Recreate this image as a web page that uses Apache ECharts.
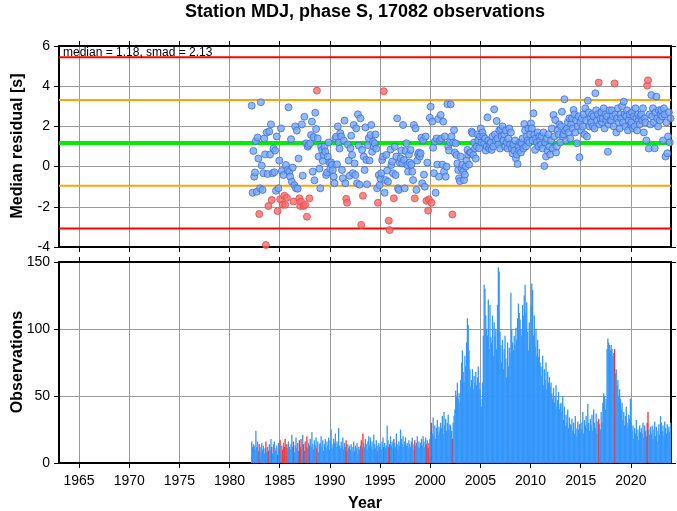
<!DOCTYPE html>
<html><head><meta charset="utf-8">
<script src="https://cdn.jsdelivr.net/npm/echarts@6/dist/echarts.min.js"></script>
<style>html,body{margin:0;padding:0;background:#fff}#c{width:677px;height:511px}</style>
</head><body><div id="c"></div>
<script>
const TITLE = 'Station MDJ, phase S, 17082 observations';
const MEDIAN = 1.18, SMAD = 2.13;
const START_YEAR = 1982, START_MONTH = 2; // first month = March 1982
const yearTicks = [1965,1970,1975,1980,1985,1990,1995,2000,2005,2010,2015,2020];

// monthly median residuals [s]
const residuals = [
  3.03,-1.3,0.78,-0.5,-0.29,1.27,-1.25,1.45,0.4,-2.36,
  -1.08,3.20,0.05,-1.16,-0.33,1.4,0.61,-3.9,1.7,-0.37,-1.96,1.75,
  0.6,2.1,-1.66,-0.33,0.9,-0.28,0.8,-1.2,1.5,-2.21,-1.08,0.3,
  -1.63,1.9,-0.22,-1.9,-0.42,-1.45,-1.9,0.08,-1.55,-0.17,2.95,-0.25,
  -0.5,1.36,-0.75,-0.05,-1.74,-0.92,2.0,-1.08,1.79,-1.1,0.4,-1.58,
  -1.96,-1.74,2.1,-0.45,-1.96,2.48,-1.9,1.16,-2.49,0.99,1.07,-1.58,
  1.16,1.57,2.24,-0.25,1.47,-0.68,2.68,1.87,3.78,1.4,0.5,-0.1,
  -1.08,0.99,0.83,0.28,0.58,0.99,0.74,-0.42,-0.3,0.5,1.2,0.2,
  -0.12,0.21,0.08,-0.17,-0.5,-0.83,1.4,1.49,0.11,2.0,1.2,0.9,
  1.66,1.5,-0.17,-0.58,1.3,2.29,-0.83,-1.6,-1.8,1.1,0.3,-0.46,
  0.91,1.54,0.58,-0.33,2.07,0.16,-0.42,1.9,-0.83,2.6,1.04,-0.9,
  2.4,-2.9,0.83,-1.45,0.5,-0.17,1.95,0.33,-0.88,1.07,1.41,0.3,
  1.57,2.07,0.74,1.24,1.0,1.16,1.6,0.9,-1.08,-1.8,-0.42,-0.92,
  -0.6,-0.33,0.33,0.5,3.75,-1.3,-0.67,0.58,-0.2,-0.75,-2.69,-3.16,
  0.85,0.08,0.25,-0.33,-1.58,0.99,-0.42,0.5,2.4,-1.08,-1.16,0.2,
  0.41,0.8,0.16,2.07,0.33,-1.08,0.77,1.16,0.08,-0.25,0.6,0.2,
  0.83,0.1,-0.25,-0.67,2.07,-1.58,1.9,-1.16,0.3,0.6,0.7,0.5,
  0.66,1.44,-0.83,1.3,-0.4,-1.0,1.5,-1.7,0.2,-2.19,-1.63,2.43,
  2.98,-1.8,2.24,0.94,-0.33,1.24,-1.3,1.4,0.1,2.37,-0.5,1.3,
  2.57,1.4,0.1,2.24,-0.25,1.5,-0.5,0.0,3.11,1.0,0.8,1.2,
  3.1,1.5,-2.38,1.2,1.82,0.7,1.16,0.58,0.16,-0.17,-0.58,-0.72,
  0.5,-0.08,0.1,-0.25,-0.67,-0.4,0.0,0.3,0.83,0.6,0.1,0.7,
  0.7,1.74,1.66,0.58,1.2,0.9,0.4,1.0,1.6,1.3,0.91,1.5,
  1.9,1.2,1.7,1.5,1.16,1.4,0.8,1.0,2.45,1.3,0.9,1.1,
  1.2,0.83,1.5,1.0,2.85,1.6,1.3,2.27,1.4,1.1,1.8,0.9,
  1.86,1.5,2.0,1.3,1.6,1.0,1.8,1.2,0.9,1.4,1.9,1.1,
  1.7,0.9,0.66,1.1,0.8,1.3,0.41,0.6,0.13,1.0,0.8,1.2,
  0.7,1.16,1.4,0.9,2.12,1.8,1.0,1.5,1.3,1.9,1.2,1.6,
  2.15,1.9,1.3,2.65,1.6,0.83,1.4,1.2,1.7,1.0,1.5,1.3,
  1.1,1.5,0.9,1.7,0.03,1.2,0.5,1.4,0.8,1.6,1.0,0.6,
  1.3,1.9,0.9,2.57,1.5,2.32,0.7,1.0,1.8,1.6,2.1,1.2,
  2.0,2.73,1.5,1.6,3.35,1.8,1.3,1.9,2.2,1.7,2.4,1.4,
  2.1,2.4,1.9,2.82,2.6,1.7,2.3,1.16,2.0,2.5,0.46,2.2,
  1.8,2.4,2.0,2.6,1.6,2.9,2.3,1.5,3.28,2.7,2.0,2.4,
  2.2,2.6,2.0,2.5,1.9,3.65,2.8,2.3,2.6,4.18,2.1,2.4,
  2.7,2.2,2.4,2.9,1.9,2.6,2.3,2.5,0.74,2.1,2.8,2.3,
  2.3,2.8,2.5,2.0,4.14,2.6,1.7,2.4,2.9,2.2,1.9,2.6,
  2.4,3.0,2.2,3.23,2.6,2.0,2.5,2.8,1.8,2.3,2.6,2.1,
  2.2,2.7,1.9,2.5,2.0,2.9,2.4,1.8,2.6,2.3,2.1,2.5,
  2.6,2.3,2.9,1.7,2.4,2.2,1.3,4.03,4.29,0.9,2.6,2.1,
  3.56,2.5,2.9,2.2,0.91,2.7,3.48,2.4,2.0,2.8,2.3,2.6,
  2.8,2.5,1.3,2.9,2.6,0.5,2.2,0.66,1.5,2.7,1.2,2.4
];

// monthly observation counts
const counts = [
  16,12,14,13,10,24,12,16,9,14,
  12,8,15,10,13,7,11,16,8,12,9,14,
  10,18,12,7,14,16,9,11,13,6,15,10,
  17,8,13,10,15,12,18,9,14,11,16,12,
  10,14,21,12,16,8,13,19,11,15,9,17,
  12,18,10,21,14,9,16,12,20,11,15,13,
  18,12,23,14,10,17,13,19,11,16,8,14,
  15,20,12,17,9,14,18,11,16,13,19,10,
  17,25,14,11,18,15,22,12,16,14,26,13,
  11,16,13,19,10,15,12,17,9,14,11,13,
  10,14,8,12,16,9,13,11,15,7,12,10,
  13,17,11,22,15,12,18,14,10,16,20,13,
  19,12,16,10,21,14,11,17,13,9,15,12,
  14,10,16,19,12,15,11,13,28,17,12,14,
  20,13,16,11,18,15,12,22,14,10,16,13,
  25,18,14,20,12,16,19,13,15,11,17,14,
  12,16,19,14,10,17,13,15,20,12,16,11,
  15,18,13,20,16,12,19,14,17,11,15,18,
  24,30,22,34,20,28,18,26,32,21,27,24,
  30,26,35,22,38,28,33,24,30,36,25,29,
  28,24,18,30,35,40,54,50,60,48,52,45,
  62,75,84,68,60,80,72,90,108,103,84,70,
  57,62,70,55,65,60,68,58,64,72,60,55,
  48,42,60,95,133,130,110,100,95,122,85,118,
  94,90,110,80,105,95,100,85,118,146,143,98,
  88,75,92,70,85,95,78,64,90,72,86,82,
  127,100,90,84,95,88,101,92,108,119,112,107,
  100,95,118,110,125,133,112,120,98,84,105,92,
  118,134,129,95,110,87,100,80,92,79,85,75,
  72,65,80,58,70,62,75,55,68,60,64,57,
  60,52,48,56,45,50,58,42,47,53,40,44,
  45,38,50,32,42,28,36,30,40,26,34,29,
  28,33,24,30,22,35,26,20,31,25,29,23,
  30,25,38,22,32,28,35,26,44,30,24,33,
  28,36,24,40,30,26,37,22,31,33,29,25,
  38,30,45,52,50,40,48,85,93,90,88,84,
  88,85,80,82,85,67,70,58,62,50,55,48,
  40,45,32,38,28,35,42,30,26,36,33,48,
  30,24,28,18,26,22,32,20,25,17,28,23,
  26,22,30,19,28,24,20,30,38,25,21,27,
  22,28,18,25,31,20,27,16,24,29,21,35,
  30,24,28,20,31,26,22,29,25,27,23,30
];

const FONT = '"Liberation Sans", Arial, Helvetica, sans-serif';
const XMIN = 1963, XMAX = 2024;
const OUT_LIMIT = 1.2 * SMAD;

const monthX = i => START_YEAR + (START_MONTH + i + 0.5) / 12;
const isOut = v => Math.abs(v - MEDIAN) > OUT_LIMIT;

const bluePts = [], redPts = [], bars = [];
residuals.forEach((v, i) => {
  (isOut(v) ? redPts : bluePts).push([monthX(i), v]);
});
counts.forEach((c, i) => {
  const out = isOut(residuals[i]);
  bars.push({ value: [monthX(i), c], itemStyle: { color: out ? '#ff2e2e' : '#3396fb' }, z: out ? 3 : 2 });
});

function xAx(grid, pos, labels, split) {
  return {
    type: 'value', gridIndex: grid, position: pos, min: XMIN, max: XMAX,
    axisLine: { show: true, onZero: false, lineStyle: { color: '#000', width: 2 } },
    axisTick: { show: true, customValues: yearTicks, length: 5, lineStyle: { color: '#000', width: 1 } },
    axisLabel: { show: labels, customValues: yearTicks, formatter: v => String(v), color: '#000', fontSize: 14, fontFamily: FONT, margin: 11 },
    splitLine: { show: split, lineStyle: { color: '#9a9a9a', width: 1 } }
  };
}
function yAx(grid, pos, min, max, interval, labels, split) {
  return {
    type: 'value', gridIndex: grid, position: pos, min: min, max: max, interval: interval,
    axisLine: { show: true, onZero: false, lineStyle: { color: '#000', width: 2 } },
    axisTick: { show: true, length: 5, lineStyle: { color: '#000', width: 1 } },
    axisLabel: { show: labels, formatter: v => String(v), color: '#000', fontSize: 14, fontFamily: FONT, margin: 9 },
    splitLine: { show: split, lineStyle: { color: '#9a9a9a', width: 1 } }
  };
}
function hLine(val, color, width) {
  return {
    type: 'line', xAxisIndex: 0, yAxisIndex: 0, data: [[XMIN, val], [XMAX, val]],
    showSymbol: false, symbol: 'none', silent: true, z: 1,
    lineStyle: { color: color, width: width }
  };
}

const chart = echarts.init(document.getElementById('c'), null, { renderer: 'canvas' });
chart.setOption({
  animation: false,
  backgroundColor: '#fff',
  grid: [
    { left: 59, right: 6, top: 46, height: 201 },
    { left: 59, right: 6, top: 262, height: 201 }
  ],
  xAxis: [
    xAx(0, 'bottom', false, true),
    xAx(0, 'top', false, false),
    xAx(1, 'bottom', true, true),
    xAx(1, 'top', false, false)
  ],
  yAxis: [
    yAx(0, 'left', -4, 6, 2, true, true),
    yAx(0, 'right', -4, 6, 2, false, false),
    yAx(1, 'left', 0, 150, 50, true, true),
    yAx(1, 'right', 0, 150, 50, false, false)
  ],
  series: [
    hLine(MEDIAN + 2 * SMAD, '#ff0000', 2),
    hLine(MEDIAN - 2 * SMAD, '#ff0000', 2),
    hLine(MEDIAN + SMAD, '#ffa500', 2),
    hLine(MEDIAN - SMAD, '#ffa500', 2),
    hLine(MEDIAN, '#00ee00', 4),
    {
      type: 'scatter', xAxisIndex: 0, yAxisIndex: 0, data: bluePts, symbolSize: 7, z: 3,
      itemStyle: { color: '#78a9f4', borderColor: '#3b6de6', borderWidth: 1 }
    },
    {
      type: 'scatter', xAxisIndex: 0, yAxisIndex: 0, data: redPts, symbolSize: 7, z: 3,
      itemStyle: { color: '#f46b6b', borderColor: '#e54a4a', borderWidth: 1 }
    },
    {
      type: 'bar', xAxisIndex: 2, yAxisIndex: 2, data: bars, barWidth: 1.3, z: 2
    }
  ],
  graphic: [
    { type: 'text', x: 365, y: 12, z: 10, style: { text: TITLE, fill: '#000', font: 'bold 18px ' + FONT, textAlign: 'center', textVerticalAlign: 'middle' } },
    { type: 'text', x: 63, y: 53, z: 10, style: { text: 'median = ' + MEDIAN.toFixed(2) + ', smad = ' + SMAD.toFixed(2), fill: '#000', font: '12px ' + FONT, textAlign: 'left', textVerticalAlign: 'middle' } },
    { type: 'text', x: 18, y: 146, rotation: Math.PI / 2, z: 10, style: { text: 'Median residual [s]', fill: '#000', font: 'bold 16px ' + FONT, textAlign: 'center', textVerticalAlign: 'middle' } },
    { type: 'text', x: 18, y: 362, rotation: Math.PI / 2, z: 10, style: { text: 'Observations', fill: '#000', font: 'bold 16px ' + FONT, textAlign: 'center', textVerticalAlign: 'middle' } },
    { type: 'text', x: 365, y: 504, z: 10, style: { text: 'Year', fill: '#000', font: 'bold 16px ' + FONT, textAlign: 'center', textVerticalAlign: 'middle' } }
  ]
});
</script>
</body></html>
